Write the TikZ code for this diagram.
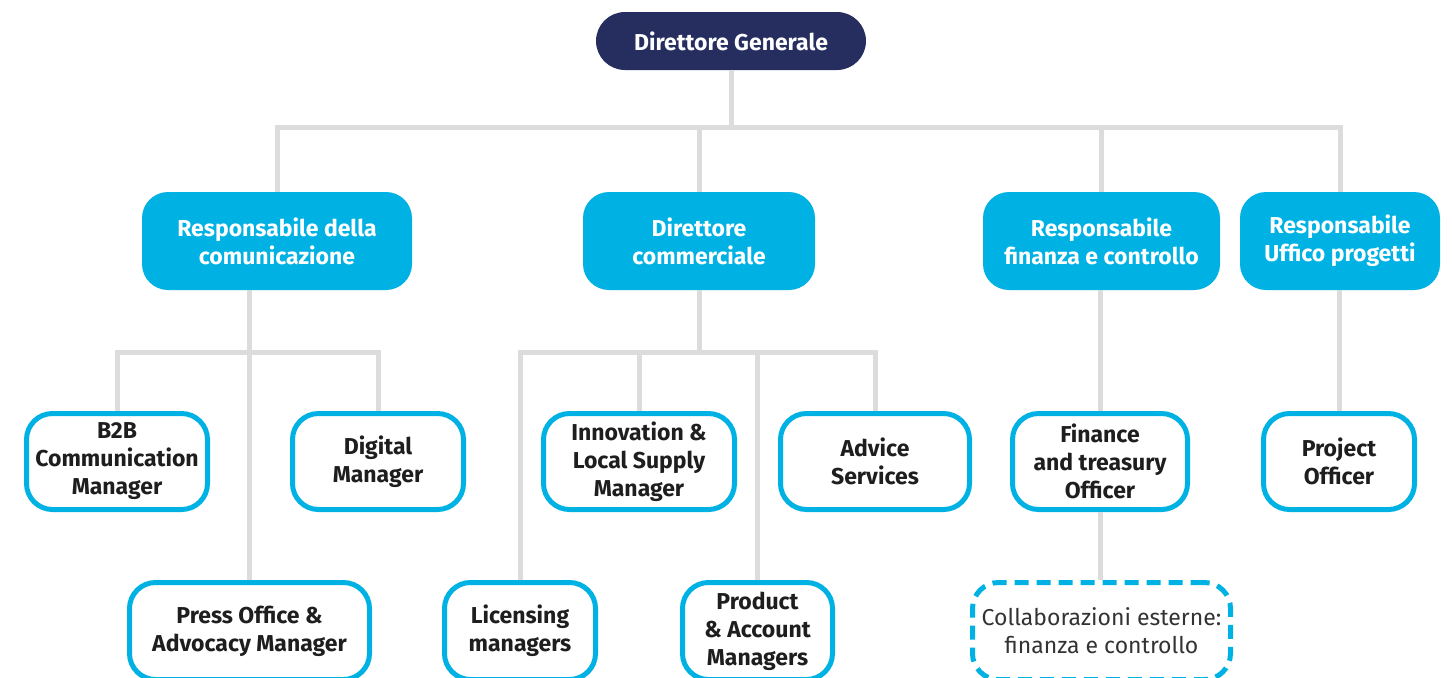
\documentclass[tikz,border=0pt]{standalone}
\usepackage{fontspec}
\setmainfont{Fira Sans}
\definecolor{navy}{HTML}{252E5E}
\definecolor{cyanbox}{HTML}{00B2E3}
\definecolor{linegray}{HTML}{DCDCDC}
\definecolor{textdark}{HTML}{1E1E1E}
\tikzset{
	chief/.style={fill=navy, text=white, font=\bfseries\fontsize{11.5}{14}\selectfont, minimum width=135pt, minimum height=29pt, rounded corners=14.5pt, inner sep=2pt},
	headbox/.style={fill=cyanbox, text=white, font=\bfseries\fontsize{11.5}{14}\selectfont, align=center, minimum height=49pt, rounded corners=13pt, inner sep=2pt},
	rolebox/.style={draw=cyanbox, line width=2.5pt, fill=white, text=textdark, font=\bfseries\fontsize{11.5}{14}\selectfont, align=center, minimum height=48pt, rounded corners=13pt, inner sep=2pt},
	extbox/.style={rolebox, dash pattern=on 7pt off 4pt, text=black!80, font=\fontsize{11.5}{14}\selectfont},
	link/.style={draw=linegray, line width=2.5pt}
}

\begin{document}
\begin{tikzpicture}[x=0.5pt, y=-0.5pt]
			%%%%% START %%%%%
			
			\useasboundingbox (0, 0) rectangle (1452, 677);
			\clip (0, 0) rectangle (1452, 677);
			
			\node[chief] (dg) at (731, 41) {Direttore Generale};
			
			\node[headbox, minimum width=135pt] (rc) at (277, 241) {Responsabile della\\comunicazione};
			\node[headbox, minimum width=116pt] (dc) at (699, 241) {Direttore\\commerciale};
			\node[headbox, minimum width=118.5pt] (rf) at (1101.5, 241) {Responsabile\\finanza e controllo};
			\node[headbox, minimum width=100pt] (up) at (1340, 241) {Responsabile\\Uffico progetti};
			
			\node[rolebox, minimum width=90.5pt] (b2b) at (117, 461.5) {B2B\\Communication\\Manager};
			\node[rolebox, minimum width=85.5pt] (dm) at (378, 461.5) {Digital\\Manager};
			\node[rolebox, minimum width=95.5pt] (inn) at (639, 461.5) {Innovation \&\\Local Supply\\Manager};
			\node[rolebox, minimum width=94.5pt] (adv) at (875, 461.5) {Advice\\Services};
			\node[rolebox, minimum width=87.5pt] (fin) at (1100, 461.5) {Finance\\and treasury\\Officer};
			\node[rolebox, minimum width=75.5pt] (pj) at (1339, 461.5) {Project\\Officer};
			
			\node[rolebox, minimum width=120pt, minimum height=48.5pt] (pr) at (249.5, 631) {Press Office \&\\Advocacy Manager};
			\node[rolebox, minimum width=75.5pt, minimum height=48.5pt] (lic) at (520, 631) {Licensing\\managers};
			\node[rolebox, minimum width=75pt, minimum height=48.5pt] (prod) at (757.5, 631) {Product\\\& Account\\Managers};
			\node[extbox, minimum width=129pt, minimum height=48.5pt] (col) at (1101.5, 631) {Collaborazioni esterne:\\finanza e controllo};
			
			% top level
			\draw[link] (dg.south) -- ++(0, 57) -| (rc.north);
			\draw[link] (dg.south) -- ++(0, 57) -| (dc.north);
			\draw[link] (dg.south) -- ++(0, 57) -| (rf.north);
			\draw[link] (dg.south) -- ++(0, 57) -| (up.north);
			
			% comunicazione
			\draw[link] (rc.south -| pr.north) -- (pr.north);
			\draw[link] (b2b.north) -- ++(0, -59) -| (dm.north);
			
			% commerciale
			\draw[link] (dc.south) -- ++(0, 62);
			\draw[link] (lic.north) -- ++(0, -228) -| (adv.north);
			\draw[link] (inn.north) -- ++(0, -59);
			\draw[link] (prod.north) -- ++(0, -228);
			
			% finanza e progetti
			\draw[link] (fin.north |- rf.south) -- (fin.north);
			\draw[link] (fin.south) -- (fin.south |- col.north);
			\draw[link] (pj.north |- up.south) -- (pj.north);
			
			%%%%% END %%%%%
		\end{tikzpicture}
\end{document}
